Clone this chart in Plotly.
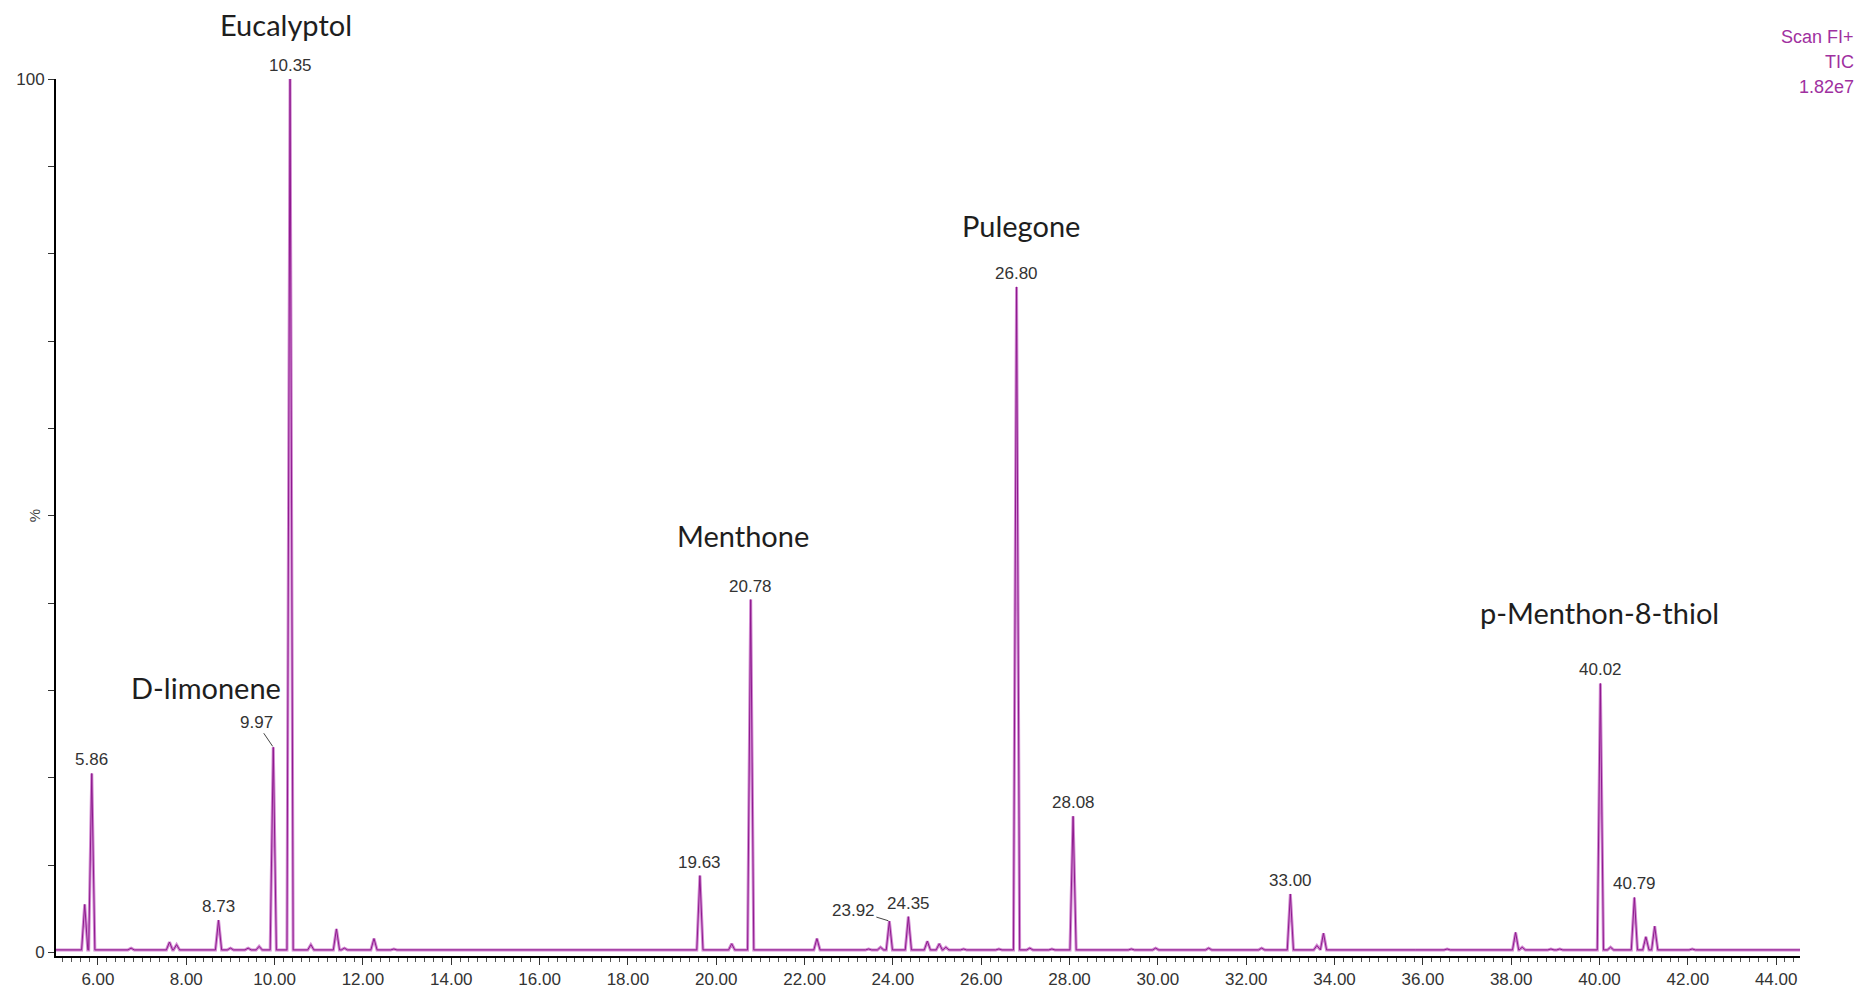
import plotly.graph_objects as go

# ---- data (retention time in min, relative abundance %) ----
peak_rt = [5.70, 5.86, 6.75, 7.62, 7.78, 8.73, 9.00, 9.40, 9.65, 9.97, 10.35, 10.82, 11.40, 11.58,
           12.25, 12.70, 18.45, 19.63, 20.35, 20.78, 22.28, 23.45, 23.72, 23.92, 24.35, 24.78,
           25.05, 25.20, 25.60, 26.40, 26.80, 27.10, 27.60, 28.08, 29.40, 29.95, 31.15, 32.35,
           33.00, 33.60, 33.75, 35.90, 36.55, 38.10, 38.25, 38.90, 39.10, 40.02, 40.25, 40.79,
           41.05, 41.25, 42.10, 44.00]
peak_height = [5.5, 20.5, 0.5, 1.2, 0.9, 3.7, 0.5, 0.5, 0.7, 23.5, 100.0, 0.9, 2.7, 0.5,
               1.6, 0.4, 0.3, 8.8, 1.0, 40.4, 1.6, 0.4, 0.6, 3.6, 4.1, 1.3,
               1.0, 0.6, 0.4, 0.4, 76.2, 0.5, 0.4, 15.6, 0.4, 0.5, 0.5, 0.5,
               6.7, 0.8, 2.2, 0.3, 0.4, 2.3, 0.6, 0.4, 0.4, 30.8, 0.6, 6.3,
               1.8, 3.0, 0.4, 0.3]
baseline_level = 0.3
run_start, run_end = 5.05, 44.54

labelled_rt = ["5.86", "8.73", "9.97", "10.35", "19.63", "20.78", "23.92", "24.35",
               "26.80", "28.08", "33.00", "40.02", "40.79"]

compound_names = ["Eucalyptol", "D-limonene", "Menthone", "Pulegone", "p-Menthon-8-thiol"]
compound_x = [10.26, 8.45, 20.61, 26.90, 40.01]
compound_y = [106.2, 30.3, 47.7, 83.2, 38.9]

header_lines = ["Scan FI+", "TIC", "1.82e7"]

x_tick_major = [6, 8, 10, 12, 14, 16, 18, 20, 22, 24, 26, 28, 30, 32, 34, 36, 38, 40, 42, 44]

# ---- build the trace from the peak list ----
half_w = 0.07
xs, ys = [run_start], [baseline_level]
for rt, h in zip(peak_rt, peak_height):
    xs += [rt - half_w, rt, rt + half_w]
    ys += [baseline_level, h, baseline_level]
xs.append(run_end)
ys.append(baseline_level)

height_of = dict(zip(peak_rt, peak_height))

fig = go.Figure()
fig.add_trace(go.Scatter(x=xs, y=ys, mode="lines",
                         line=dict(color="#d28ad2", width=3), hoverinfo="skip", showlegend=False))
fig.add_trace(go.Scatter(x=xs, y=ys, mode="lines",
                         line=dict(color="#8e1a8e", width=1), showlegend=False))

num_font = dict(family="Liberation Sans, Arial", size=17, color="#333333")
offset_labels = {"9.97": (-17, -25), "23.92": (-36, -11)}

for lab in labelled_rt:
    rt = float(lab)
    h = height_of[rt]
    if lab in offset_labels:
        ax, ay = offset_labels[lab]
        fig.add_annotation(x=rt, y=h, text=lab, showarrow=True, arrowhead=0, arrowwidth=1,
                           arrowcolor="#444444", ax=ax, ay=ay, standoff=1, font=num_font)
    else:
        fig.add_annotation(x=rt, y=h, text=lab, showarrow=False, yanchor="bottom",
                           yshift=2, font=num_font)

# y scale: 100 % spans 874 px
px_per_pct = 8.74
for name, cx, cy in zip(compound_names, compound_x, compound_y):
    ya = min(cy, 100.0)
    fig.add_annotation(x=cx, y=ya, yshift=(cy - ya) * px_per_pct, text=name, showarrow=False,
                       xanchor="center", yanchor="middle", borderpad=0,
                       font=dict(family="Lato, Open Sans, sans-serif", size=29, color="#1e1e1e"))

for i, line in enumerate(header_lines):
    fig.add_annotation(xref="paper", yref="paper", x=1, y=1, xanchor="right", yanchor="middle",
                       xshift=56, yshift=42 - 25 * i, text=line, showarrow=False,
                       font=dict(family="Liberation Sans, Arial", size=18, color="#a0309f"))

fig.add_annotation(xref="paper", yref="y", x=0, y=50, xshift=-32, text="%", textangle=-90,
                   showarrow=False, font=dict(family="Liberation Sans, Arial", size=15, color="#444444"))

# the page adds an 8 px body margin, so margins are trimmed on the top/left by 8 px
fig.update_layout(
    width=1875, height=993,
    margin=dict(l=48, r=83, t=71, b=45),
    paper_bgcolor="white", plot_bgcolor="white",
    showlegend=False,
)
fig.update_xaxes(
    range=[run_start, run_end], showgrid=False, zeroline=False,
    showline=True, linecolor="black", linewidth=2,
    tickmode="array", tickvals=x_tick_major, ticktext=[f"{v:.2f}" for v in x_tick_major],
    ticks="outside", ticklen=7, tickwidth=1, tickcolor="#333333",
    minor=dict(dtick=0.2, tick0=0, ticks="outside", ticklen=4, tickcolor="#555555", showgrid=False),
    tickfont=num_font, automargin=False,
)
fig.update_yaxes(
    range=[-0.4, 100], showgrid=False, zeroline=False,
    showline=True, linecolor="black", linewidth=2,
    tickmode="array", tickvals=[0, 10, 20, 30, 40, 50, 60, 70, 80, 90, 100],
    ticktext=["0", "", "", "", "", "", "", "", "", "", "100"],
    ticks="outside", ticklen=6, tickwidth=1, tickcolor="#333333",
    tickfont=num_font, automargin=False,
)

fig.write_html("out.html")
